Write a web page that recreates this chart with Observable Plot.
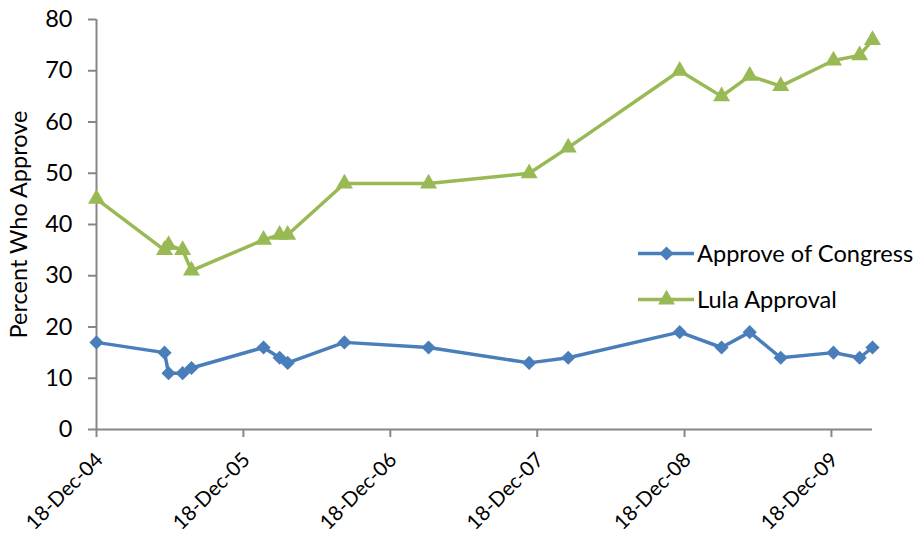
<!DOCTYPE html>
<html>
<head>
<meta charset="utf-8">
<script src="https://cdn.jsdelivr.net/npm/d3@7"></script>
<script src="https://cdn.jsdelivr.net/npm/@observablehq/plot@0.6"></script>
<style>
  html, body { margin: 0; padding: 0; background: #fff; }
  #wrap { position: relative; width: 924px; height: 543px; font-family: Lato, "Open Sans", sans-serif; }
  #legend { position: absolute; left: 638px; top: 230px; font-size: 23.6px; color: #000; }
  .item { display: flex; align-items: center; height: 46px; }
  .item svg { margin-right: 3px; }
</style>
</head>
<body>
<div id="wrap"><div id="legend"></div></div>
<script>
const dates = ["2004-12-18","2005-06-05","2005-06-15","2005-07-20","2005-08-11","2006-02-06","2006-03-18","2006-04-07","2006-08-26","2007-03-23","2007-11-28","2008-03-04","2008-12-06","2009-03-20","2009-05-29","2009-08-14","2009-12-23","2010-02-26","2010-03-30"];
const congress = [17,15,11,11,12,16,14,13,17,16,13,14,19,16,19,14,15,14,16];
const lula = [45,35,36,35,31,37,38,38,48,48,50,55,70,65,69,67,72,73,76];
const xTicks = ["2004-12-18","2005-12-18","2006-12-18","2007-12-18","2008-12-18","2009-12-18"];
const yTicks = [0,10,20,30,40,50,60,70,80];
const seriesNames = ["Approve of Congress","Lula Approval"];
const seriesColors = ["#4a7ebb","#98b954"];
const seriesSymbols = ["diamond2","triangle"];
const seriesR = [6.4, 6.3];

const parse = d3.utcParse("%Y-%m-%d");
const rows = [];
dates.forEach((d, i) => {
  rows.push({date: parse(d), value: congress[i], series: seriesNames[0]});
  rows.push({date: parse(d), value: lula[i], series: seriesNames[1]});
});
const cRows = rows.filter(r => r.series === seriesNames[0]);
const lRows = rows.filter(r => r.series === seriesNames[1]);
const x0 = parse(dates[0]), x1 = parse(dates[dates.length - 1]);

const chart = Plot.plot({
  width: 924,
  height: 543,
  marginLeft: 96,
  marginRight: 52,
  marginTop: 19,
  marginBottom: 114,
  style: {fontFamily: "Lato, 'Open Sans', sans-serif", fontSize: "23px", color: "#000", background: "#fff"},
  x: {type: "utc", domain: [x0, x1]},
  y: {domain: [0, 80]},
  marks: [
    Plot.axisY({ticks: yTicks, tickSize: 8, tickPadding: 16, stroke: "#868686", strokeWidth: 2, fill: "#000",
      label: "Percent Who Approve", labelAnchor: "center", labelArrow: "none", labelOffset: 86, fontSize: 23.5}),
    Plot.axisX({ticks: xTicks.map(parse), tickFormat: () => "", tickSize: 8, stroke: "#868686", strokeWidth: 2, label: null}),
    Plot.axisX({ticks: xTicks.map(parse), tickFormat: d3.utcFormat("%d-%b-%y"), tickRotate: -45, tickSize: 0, tickPadding: 27,
      dx: 3, fill: "#000", label: null, fontSize: 20.5}),
    Plot.ruleY([0], {stroke: "#868686", strokeWidth: 2}),
    Plot.ruleX([x0], {stroke: "#868686", strokeWidth: 2}),
    Plot.line(cRows, {x: "date", y: "value", stroke: seriesColors[0], strokeWidth: 3.5}),
    Plot.line(lRows, {x: "date", y: "value", stroke: seriesColors[1], strokeWidth: 3.5}),
    Plot.dot(cRows, {x: "date", y: "value", symbol: seriesSymbols[0], r: seriesR[0], fill: seriesColors[0], stroke: "none"}),
    Plot.dot(lRows, {x: "date", y: "value", symbol: seriesSymbols[1], r: seriesR[1], fill: seriesColors[1], stroke: "none"})
  ]
});
document.getElementById("wrap").prepend(chart);

const legend = document.getElementById("legend");
seriesNames.forEach((name, i) => {
  const item = document.createElement("div");
  item.className = "item";
  const sw = Plot.plot({
    width: 56, height: 20, margin: 0,
    x: {domain: [0, 1], axis: null}, y: {domain: [0, 1], axis: null},
    marks: [
      Plot.ruleY([0.5], {stroke: seriesColors[i], strokeWidth: 3.5}),
      Plot.dot([[0.5, 0.5]], {symbol: seriesSymbols[i], r: seriesR[i], fill: seriesColors[i]})
    ]
  });
  item.appendChild(sw);
  const t = document.createElement("span");
  t.textContent = name;
  item.appendChild(t);
  legend.appendChild(item);
});
</script>
</body>
</html>
